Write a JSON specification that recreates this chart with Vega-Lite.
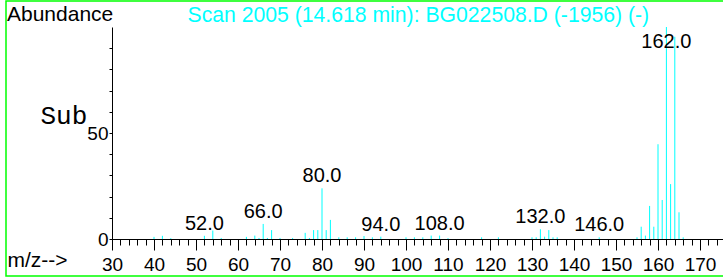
{
  "$schema": "https://vega.github.io/schema/vega-lite/v6.json",
  "width": 800,
  "height": 275,
  "autosize": {"type": "none"},
  "padding": {"left": 6, "top": 1, "right": -83, "bottom": 1},
  "background": "white",
  "config": {
    "view": {"stroke": "#00ff00", "strokeWidth": 1.5},
    "axis": {"grid": false, "domainColor": "black", "tickColor": "black", "labelColor": "black", "labelFont": "Arial, Liberation Sans, sans-serif", "titleFont": "Arial, Liberation Sans, sans-serif", "titleFontWeight": "normal", "titleColor": "black"},
    "text": {"font": "Arial, Liberation Sans, sans-serif"}
  },
  "data": {
    "values": [
      {"mz": 40, "ab": 1.0},
      {"mz": 42, "ab": 1.5},
      {"mz": 44, "ab": 0.4},
      {"mz": 52, "ab": 1.5, "label": "52.0"},
      {"mz": 54, "ab": 4.0},
      {"mz": 56, "ab": 0.5},
      {"mz": 62, "ab": 1.0},
      {"mz": 64, "ab": 1.6},
      {"mz": 65, "ab": 0.5},
      {"mz": 66, "ab": 7.1, "label": "66.0"},
      {"mz": 67, "ab": 0.5},
      {"mz": 68, "ab": 4.2},
      {"mz": 70, "ab": 0.5},
      {"mz": 73, "ab": 0.5},
      {"mz": 76, "ab": 2.9},
      {"mz": 77, "ab": 0.5},
      {"mz": 78, "ab": 4.2},
      {"mz": 79, "ab": 4.2},
      {"mz": 80, "ab": 23.9, "label": "80.0"},
      {"mz": 81, "ab": 4.2},
      {"mz": 82, "ab": 9.0},
      {"mz": 84, "ab": 0.8},
      {"mz": 86, "ab": 0.8},
      {"mz": 88, "ab": 0.8},
      {"mz": 90, "ab": 1.4},
      {"mz": 92, "ab": 0.8},
      {"mz": 94, "ab": 1.1, "label": "94.0"},
      {"mz": 100, "ab": 0.8},
      {"mz": 102, "ab": 0.8},
      {"mz": 104, "ab": 0.8},
      {"mz": 106, "ab": 1.6},
      {"mz": 108, "ab": 1.6, "label": "108.0"},
      {"mz": 110, "ab": 0.4},
      {"mz": 118, "ab": 0.8},
      {"mz": 122, "ab": 0.8},
      {"mz": 130, "ab": 0.8},
      {"mz": 131, "ab": 0.8},
      {"mz": 132, "ab": 4.6, "label": "132.0"},
      {"mz": 133, "ab": 1.1},
      {"mz": 134, "ab": 4.2},
      {"mz": 135, "ab": 0.8},
      {"mz": 136, "ab": 0.8},
      {"mz": 146, "ab": 0.8, "label": "146.0"},
      {"mz": 155, "ab": 0.8},
      {"mz": 156, "ab": 5.8},
      {"mz": 157, "ab": 1.6},
      {"mz": 158, "ab": 15.6},
      {"mz": 159, "ab": 5.8},
      {"mz": 160, "ab": 44.7},
      {"mz": 161, "ab": 18.4},
      {"mz": 162, "ab": 100, "label": "162.0"},
      {"mz": 163, "ab": 25.9},
      {"mz": 164, "ab": 95.4},
      {"mz": 165, "ab": 12.6},
      {"mz": 166, "ab": 0.8}
    ]
  },
  "layer": [
    {
      "mark": {"type": "rule", "color": "#00ffff", "strokeWidth": 1},
      "encoding": {
        "x": {"field": "mz", "type": "quantitative",
              "scale": {"domain": [30, 175.476], "range": [106, 717], "nice": false, "zero": false},
              "axis": {"orient": "bottom", "offset": -37, "values": [30, 40, 50, 60, 70, 80, 90, 100, 110, 120, 130, 140, 150, 160, 170],
                       "tickSize": 11, "labelFontSize": 19, "labelBaseline": "alphabetic", "labelPadding": 20.3, "labelOverlap": false, "labelFlush": false,
                       "title": "m/z-->", "titleFontSize": 21, "titleX": 1, "titleY": 27.5, "titleAlign": "left", "titleBaseline": "alphabetic", "titleAnchor": null}},
        "y": {"field": "ab", "type": "quantitative",
              "scale": {"domain": [0, 100], "range": [238, 26], "nice": false},
              "axis": {"orient": "left", "offset": -106, "values": [0, 10, 20, 30, 40, 50, 60, 70, 80, 90], "tickSize": 3,
                       "labelExpr": "datum.value % 50 === 0 ? datum.label : ''", "labelFontSize": 19, "labelPadding": 1,
                       "title": "Abundance", "titleFontSize": 21, "titleAngle": 0, "titleX": -105.5, "titleY": 19.7, "titleAlign": "left", "titleBaseline": "alphabetic"}},
        "y2": {"datum": 0}
      }
    },
    {
      "transform": [
        {"filter": "isValid(datum.label)"},
        {"calculate": "min(datum.ab, 87.3)", "as": "ly"}
      ],
      "mark": {"type": "text", "fontSize": 20, "color": "black", "dy": -6, "baseline": "alphabetic", "align": "center"},
      "encoding": {
        "x": {"field": "mz", "type": "quantitative",
              "scale": {"domain": [30, 175.476], "range": [106, 717], "nice": false, "zero": false},
              "axis": {"orient": "bottom", "offset": -37, "values": [30, 32, 34, 36, 38, 40, 42, 44, 46, 48, 50, 52, 54, 56, 58, 60, 62, 64, 66, 68, 70, 72, 74, 76, 78, 80, 82, 84, 86, 88, 90, 92, 94, 96, 98, 100, 102, 104, 106, 108, 110, 112, 114, 116, 118, 120, 122, 124, 126, 128, 130, 132, 134, 136, 138, 140, 142, 144, 146, 148, 150, 152, 154, 156, 158, 160, 162, 164, 166, 168, 170, 172, 174],
                       "tickSize": 6, "labels": false, "domain": false,
                       "title": "Scan 2005 (14.618 min): BG022508.D (-1956) (-)", "titleColor": "#00ffff", "titleFontSize": 21.2,
                       "titleX": 181, "titleY": -217.5, "titleAlign": "left", "titleBaseline": "alphabetic"}},
        "y": {"field": "ly", "type": "quantitative",
              "scale": {"domain": [0, 100], "range": [238, 26], "nice": false},
              "axis": {"orient": "left", "offset": -106, "ticks": false, "labels": false, "domain": false,
                       "title": "Sub", "titleFont": "Courier New, Liberation Mono, monospace", "titleFontSize": 26, "titleAngle": 0,
                       "titleX": -72, "titleY": 122, "titleAlign": "left", "titleBaseline": "alphabetic"}},
        "text": {"field": "label"}
      }
    }
  ],
  "resolve": {"scale": {"x": "independent", "y": "independent"}}
}
